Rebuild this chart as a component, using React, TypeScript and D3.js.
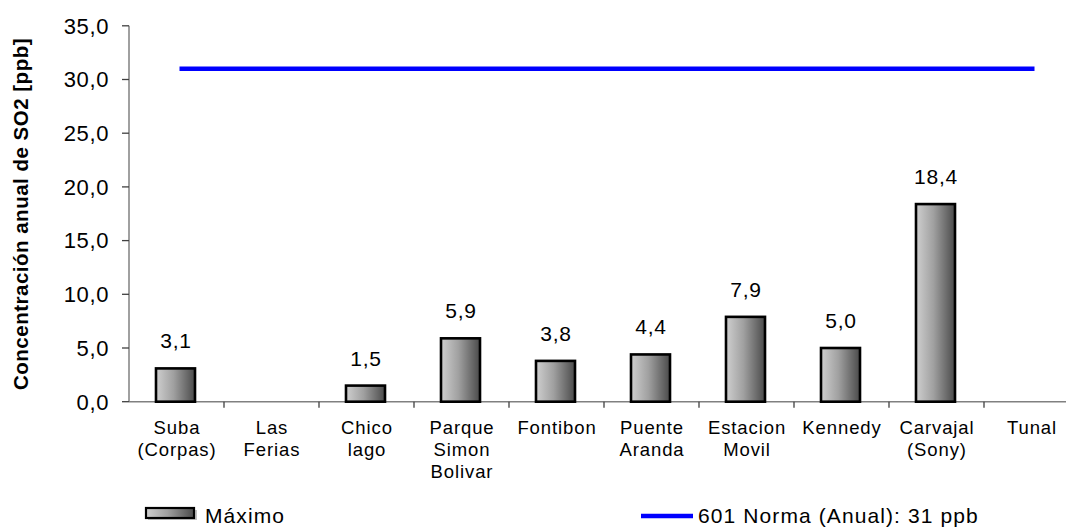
import React from "react";
import * as d3 from "d3";

const categories: string[][] = [
  ["Suba", "(Corpas)"],
  ["Las", "Ferias"],
  ["Chico", "lago"],
  ["Parque", "Simon", "Bolivar"],
  ["Fontibon"],
  ["Puente", "Aranda"],
  ["Estacion", "Movil"],
  ["Kennedy"],
  ["Carvajal", "(Sony)"],
  ["Tunal"],
];
const maximo: (number | null)[] = [3.1, null, 1.5, 5.9, 3.8, 4.4, 7.9, 5.0, 18.4, null];
const norma: number[] = [31, 31, 31, 31, 31, 31, 31, 31, 31, 31];
const yTicks: number[] = [0, 5, 10, 15, 20, 25, 30, 35];

const W = 1066;
const H = 527;
const FONT = "'Liberation Sans', Arial, sans-serif";

export default function App() {
  const x0 = 129;
  const step = 95;
  const xBand = d3
    .scaleBand<number>()
    .domain(d3.range(categories.length))
    .range([x0, x0 + step * categories.length])
    .paddingInner(0)
    .paddingOuter(0);
  const y = d3.scaleLinear().domain([0, 35]).range([401.7, 25.8]);
  const barW = 39;
  const cx = (i: number) => (xBand(i) as number) + xBand.bandwidth() / 2;
  const fmt = (v: number) => v.toFixed(1).replace(".", ",");

  const lineGen = d3
    .line<number>()
    .x((_, i) => cx(i) + 3)
    .y((d) => y(d));

  return (
    <svg
      width={W}
      height={H}
      style={{ position: "absolute", left: 0, top: 0, background: "#fff" }}
      fontFamily={FONT}
    >
      <defs>
        <linearGradient id="barGrad" x1="0" x2="1" y1="0" y2="0">
          <stop offset="0%" stopColor="#cfcfcf" />
          <stop offset="45%" stopColor="#a0a0a0" />
          <stop offset="100%" stopColor="#4a4a4a" />
        </linearGradient>
      </defs>

      {/* Y axis title */}
      <text
        transform={`translate(28,214) rotate(-90)`}
        textAnchor="middle"
        fontSize={20.5}
        fontWeight="bold"
        letterSpacing={0.5}
        fill="#000"
      >
        Concentración anual de SO2 [ppb]
      </text>

      {/* Y axis */}
      <line x1={x0} x2={x0} y1={y(35)} y2={y(0)} stroke="#808080" strokeWidth={1.5} />
      {yTicks.map((t) => (
        <g key={t}>
          <line x1={x0 - 7} x2={x0} y1={y(t)} y2={y(t)} stroke="#404040" strokeWidth={1.3} />
          <text
            x={109}
            y={y(t) + 7.8}
            textAnchor="end"
            fontSize={22}
            letterSpacing={0.6}
            fill="#000"
          >
            {fmt(t)}
          </text>
        </g>
      ))}

      {/* X axis */}
      <line x1={x0} x2={W} y1={y(0)} y2={y(0)} stroke="#808080" strokeWidth={1.5} />
      {d3.range(1, categories.length).map((i) => (
        <line
          key={i}
          x1={xBand(i) as number}
          x2={xBand(i) as number}
          y1={y(0)}
          y2={y(0) + 6}
          stroke="#404040"
          strokeWidth={1.3}
        />
      ))}

      {/* Category labels */}
      {categories.map((lines, i) => (
        <text key={i} textAnchor="middle" fontSize={18.5} letterSpacing={0.9} fill="#000">
          {lines.map((l, j) => (
            <tspan key={j} x={cx(i) + 0.5} y={433.5 + j * 22}>
              {l}
            </tspan>
          ))}
        </text>
      ))}

      {/* Bars */}
      {maximo.map((v, i) =>
        v == null ? null : (
          <g key={i}>
            <rect
              x={cx(i) - barW / 2 - 1}
              y={y(v)}
              width={barW}
              height={y(0) - y(v)}
              fill="url(#barGrad)"
              stroke="#000"
              strokeWidth={2.6}
            />
            <text
              x={cx(i) - 0.5}
              y={y(v) - 20}
              textAnchor="middle"
              fontSize={21}
              letterSpacing={0.8}
              fill="#000"
            >
              {fmt(v)}
            </text>
          </g>
        )
      )}

      {/* Norma line */}
      <path d={lineGen(norma) || ""} fill="none" stroke="#0000ff" strokeWidth={4.5} />

      {/* Legend */}
      <rect x={148} y={510} width={49} height={10} fill="#9a9a9a" opacity={0.6} />
      <rect x={146} y={508} width={48} height={10} fill="url(#barGrad)" stroke="#000" strokeWidth={2.2} />
      <text x={205} y={523} fontSize={21} letterSpacing={1.1} fill="#000">
        Máximo
      </text>
      <line x1={641} x2={693} y1={516} y2={516} stroke="#0000ff" strokeWidth={4.5} />
      <text x={698} y={523} fontSize={21} letterSpacing={1.1} fill="#000">
        601 Norma (Anual): 31 ppb
      </text>
    </svg>
  );
}
